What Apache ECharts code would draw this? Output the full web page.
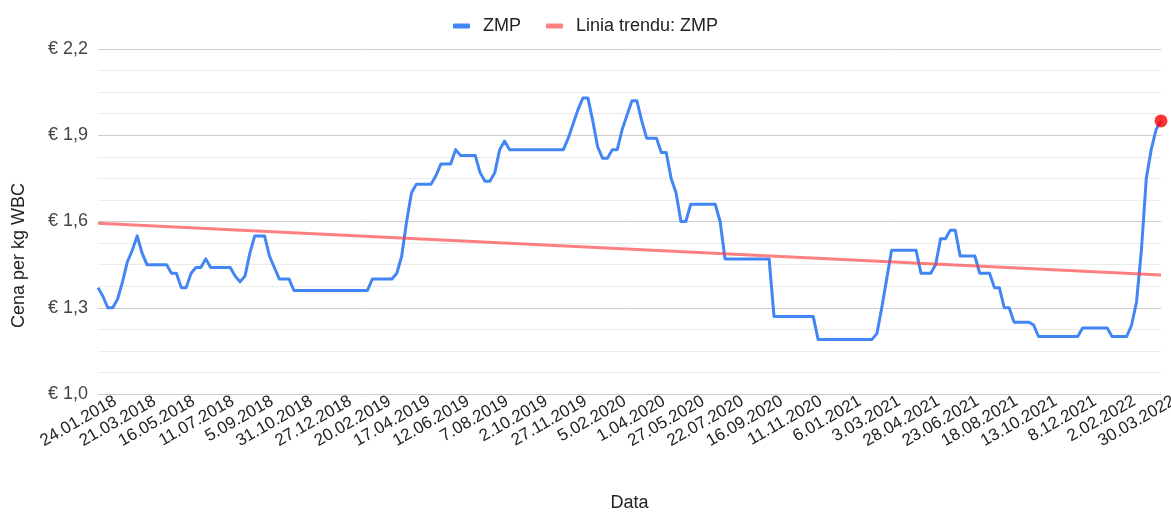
<!DOCTYPE html>
<html>
<head>
<meta charset="utf-8">
<script src="https://cdn.jsdelivr.net/npm/echarts@6/dist/echarts.min.js"></script>
<style>
  html, body { margin: 0; padding: 0; background: #fff; }
  #main { width: 1171px; height: 512px; }
</style>
</head>
<body>
<div id="main"></div>
<script>
// etykiety osi X (co 8 tydzien)
var tickLabels = ['24.01.2018', '21.03.2018', '16.05.2018', '11.07.2018', '5.09.2018', '31.10.2018',
  '27.12.2018', '20.02.2019', '17.04.2019', '12.06.2019', '7.08.2019', '2.10.2019', '27.11.2019',
  '5.02.2020', '1.04.2020', '27.05.2020', '22.07.2020', '16.09.2020', '11.11.2020', '6.01.2021',
  '3.03.2021', '28.04.2021', '23.06.2021', '18.08.2021', '13.10.2021', '8.12.2021', '2.02.2022',
  '30.03.2022'];

// cena ZMP, EUR / kg (odczyt tygodniowy)
var zmpValues = [
  1.37, 1.34, 1.30, 1.30, 1.33, 1.39, 1.46, 1.50, 1.55, 1.49,
  1.45, 1.45, 1.45, 1.45, 1.45, 1.42, 1.42, 1.37, 1.37, 1.42,
  1.44, 1.44, 1.47, 1.44, 1.44, 1.44, 1.44, 1.44, 1.41, 1.39,
  1.41, 1.49, 1.55, 1.55, 1.55, 1.48, 1.44, 1.40, 1.40, 1.40,
  1.36, 1.36, 1.36, 1.36, 1.36, 1.36, 1.36, 1.36, 1.36, 1.36,
  1.36, 1.36, 1.36, 1.36, 1.36, 1.36, 1.40, 1.40, 1.40, 1.40,
  1.40, 1.42, 1.48, 1.60, 1.70, 1.73, 1.73, 1.73, 1.73, 1.76,
  1.80, 1.80, 1.80, 1.85, 1.83, 1.83, 1.83, 1.83, 1.77, 1.74,
  1.74, 1.77, 1.85, 1.88, 1.85, 1.85, 1.85, 1.85, 1.85, 1.85,
  1.85, 1.85, 1.85, 1.85, 1.85, 1.85, 1.89, 1.94, 1.99, 2.03,
  2.03, 1.95, 1.86, 1.82, 1.82, 1.85, 1.85, 1.92, 1.97, 2.02,
  2.02, 1.95, 1.89, 1.89, 1.89, 1.84, 1.84, 1.75, 1.70, 1.60,
  1.60, 1.66, 1.66, 1.66, 1.66, 1.66, 1.66, 1.60, 1.47, 1.47,
  1.47, 1.47, 1.47, 1.47, 1.47, 1.47, 1.47, 1.47, 1.27, 1.27,
  1.27, 1.27, 1.27, 1.27, 1.27, 1.27, 1.27, 1.19, 1.19, 1.19,
  1.19, 1.19, 1.19, 1.19, 1.19, 1.19, 1.19, 1.19, 1.19, 1.21,
  1.30, 1.40, 1.50, 1.50, 1.50, 1.50, 1.50, 1.50, 1.42, 1.42,
  1.42, 1.45, 1.54, 1.54, 1.57, 1.57, 1.48, 1.48, 1.48, 1.48,
  1.42, 1.42, 1.42, 1.37, 1.37, 1.30, 1.30, 1.25, 1.25, 1.25,
  1.25, 1.24, 1.20, 1.20, 1.20, 1.20, 1.20, 1.20, 1.20, 1.20,
  1.20, 1.23, 1.23, 1.23, 1.23, 1.23, 1.23, 1.20, 1.20, 1.20,
  1.20, 1.24, 1.32, 1.50, 1.75, 1.85, 1.92, 1.95
];

// linia trendu - wartosci na poczatku i koncu (odczyt z wykresu)
var trendStart = 1.594;
var trendEnd = 1.414;

// daty tygodniowe pomiedzy etykietami
function fmtDate(d) {
  var m = d.getMonth() + 1;
  return d.getDate() + '.' + (m < 10 ? '0' + m : m) + '.' + d.getFullYear();
}
var categories = [];
for (var i = 0; i < zmpValues.length; i++) {
  var t = Math.min(Math.floor(i / 8), tickLabels.length - 1);
  if (i === t * 8) {
    categories.push(tickLabels[t]);
  } else {
    var p = tickLabels[t].split('.');
    var d = new Date(+p[2], +p[1] - 1, +p[0]);
    d.setDate(d.getDate() + 7 * (i - t * 8));
    categories.push(fmtDate(d));
  }
}
var lastIdx = zmpValues.length - 1;

var font = '"Liberation Sans", Arial, sans-serif';
var myChart = echarts.init(document.getElementById('main'));
var option = {
  animation: false,
  textStyle: { fontFamily: font },
  legend: {
    top: 12,
    left: 'center',
    itemWidth: 17,
    itemHeight: 5,
    itemGap: 25,
    icon: 'roundRect',
    textStyle: { fontSize: 18, color: '#222', fontFamily: font, padding: [0, 0, 0, 8] },
    data: ['ZMP', 'Linia trendu: ZMP']
  },
  grid: { left: 98, right: 10, top: 49, bottom: 118, outerBoundsMode: 'none', containLabel: false },
  xAxis: {
    type: 'category',
    data: categories,
    boundaryGap: false,
    name: 'Data',
    nameLocation: 'middle',
    nameGap: 100,
    nameTextStyle: { fontSize: 18, color: '#222', fontFamily: font },
    axisLine: { show: false },
    axisTick: { show: false },
    splitLine: { show: false },
    axisLabel: {
      interval: 7, rotate: 30, fontSize: 17, color: '#222', margin: 16, fontFamily: font,
      padding: [0, -20, 0, 0]
    }
  },
  yAxis: {
    type: 'value',
    min: 1.0,
    max: 2.2,
    interval: 0.3,
    name: 'Cena per kg WBC',
    nameLocation: 'middle',
    nameGap: 70,
    nameTextStyle: { fontSize: 18, color: '#222', fontFamily: font, padding: [0, 68, 0, 0] },
    axisLine: { show: false },
    axisTick: { show: false },
    axisLabel: {
      fontSize: 18, color: '#444', margin: 10, fontFamily: font,
      formatter: function (v) { return '€ ' + v.toFixed(1).replace('.', ','); }
    },
    splitLine: { lineStyle: { color: '#cccccc', width: 1 } },
    minorTick: { show: false, splitNumber: 4 },
    minorSplitLine: { show: true, lineStyle: { color: '#ebebeb', width: 1 } }
  },
  series: [
    {
      name: 'ZMP',
      type: 'line',
      data: zmpValues,
      showSymbol: false,
      color: '#4285f4',
      lineStyle: { width: 3, color: '#4285f4', join: 'round' },
      z: 2
    },
    {
      name: 'Linia trendu: ZMP',
      type: 'line',
      data: [[0, trendStart], [lastIdx, trendEnd]],
      showSymbol: false,
      color: '#ff8080',
      lineStyle: { width: 3, color: 'rgba(255,60,60,0.65)' },
      z: 3
    },
    {
      type: 'scatter',
      data: [[lastIdx, zmpValues[lastIdx]]],
      symbolSize: 13,
      itemStyle: { color: '#ff0000' },
      z: 4
    }
  ]
};
myChart.setOption(option);
</script>
</body>
</html>
